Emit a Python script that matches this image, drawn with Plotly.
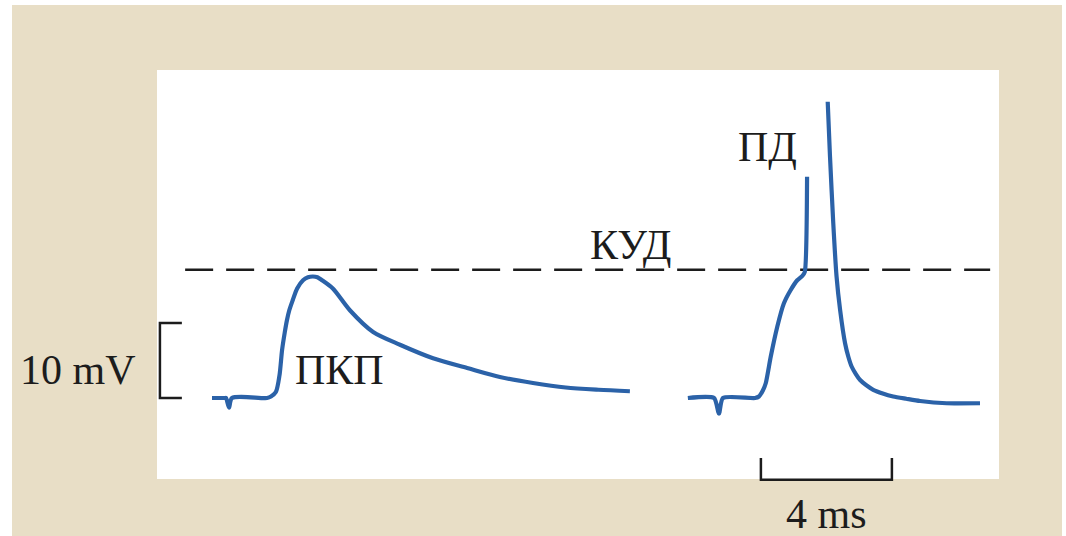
import plotly.graph_objects as go

# Postsynaptic potential (ПКП): time in ms, membrane potential in mV
psp_t = [0.00, 0.40, 0.43, 0.52, 0.61, 1.68, 1.80, 1.95, 2.06, 2.14, 2.22, 2.29,
         2.36, 2.47, 2.60, 2.78, 2.93, 3.08, 3.22, 3.36, 3.69, 4.21, 4.92, 5.74,
         6.75, 7.79, 8.79, 9.80, 10.80, 11.80, 12.76]
psp_v = [-70.0, -70.0, -70.0, -71.3, -70.0, -70.0, -69.8, -69.2, -67.0, -63.6,
         -61.3, -59.6, -58.3, -56.9, -55.4, -54.3, -53.9, -53.8, -53.9, -54.3,
         -55.4, -58.3, -61.2, -62.9, -64.7, -66.0, -67.2, -68.0, -68.6, -68.9,
         -69.1]

# Action potential (ПД): rising phase to threshold, spike, repolarisation
ap_rise_t = [14.53, 15.33, 15.48, 15.60, 16.58, 16.70, 16.82, 16.91, 17.06,
             17.26, 17.46, 17.67, 17.87, 18.03, 18.10, 18.17]
ap_rise_v = [-70.0, -70.0, -72.1, -70.0, -70.0, -69.8, -69.0, -68.0, -64.5,
             -60.5, -57.4, -55.6, -54.3, -53.7, -53.2, -40.5]
ap_fall_t = [18.80, 18.87, 18.97, 19.07, 19.18, 19.33, 19.43, 19.53, 19.66,
             19.79, 19.98, 20.19, 20.48, 20.80, 21.20, 21.62, 22.43, 23.45]
ap_fall_v = [-30.5, -37.8, -46.7, -53.8, -58.3, -62.7, -64.5, -65.8, -66.8,
             -67.6, -68.3, -68.9, -69.4, -69.8, -70.1, -70.4, -70.7, -70.7]

# Threshold (КУД) and scale bars
threshold_mv = -52.9
threshold_span = [-0.82, 23.76]
scale_mv = 10
scale_ms = 4
mv_bar_t = -1.59
mv_bar_base = -70.0
mv_bar_tick = 0.67
ms_bar_start = 16.76
ms_bar_level = -80.9
ms_bar_tick = 2.9

labels = {
    "КУД": (12.79, -49.6),
    "ПД": (16.95, -36.5),
    "ПКП": (3.88, -66.3),
}

trace_color = "#2b62a8"
ink = "#1c1c1c"
beige = "#e8dec6"
serif = "Liberation Serif"
font_size = 42

fig = go.Figure()

fig.add_trace(go.Scatter(
    x=threshold_span, y=[threshold_mv, threshold_mv], mode="lines",
    line=dict(color=ink, width=2.6, dash="28px,13px"), hoverinfo="skip"))

fig.add_trace(go.Scatter(
    x=psp_t, y=psp_v, mode="lines",
    line=dict(color=trace_color, width=4.2, shape="spline", smoothing=0.8)))

fig.add_trace(go.Scatter(
    x=ap_rise_t + [None] + ap_fall_t, y=ap_rise_v + [None] + ap_fall_v,
    mode="lines", connectgaps=False,
    line=dict(color=trace_color, width=4.2, shape="spline", smoothing=0.6)))

# 10 mV bracket
fig.add_trace(go.Scatter(
    x=[mv_bar_t + mv_bar_tick, mv_bar_t, mv_bar_t, mv_bar_t + mv_bar_tick],
    y=[mv_bar_base + scale_mv, mv_bar_base + scale_mv, mv_bar_base, mv_bar_base],
    mode="lines", line=dict(color=ink, width=2.5)))

# 4 ms bracket
fig.add_trace(go.Scatter(
    x=[ms_bar_start, ms_bar_start, ms_bar_start + scale_ms, ms_bar_start + scale_ms],
    y=[ms_bar_level + ms_bar_tick, ms_bar_level, ms_bar_level, ms_bar_level + ms_bar_tick],
    mode="lines", line=dict(color=ink, width=2.5)))

annotations = []
for text, (tx, ty) in labels.items():
    annotations.append(dict(x=tx, y=ty, text=text, showarrow=False,
                            font=dict(family=serif, size=font_size, color=ink)))
annotations.append(dict(x=mv_bar_t - 2.5, y=mv_bar_base + scale_mv * 0.37,
                        text=f"{scale_mv} mV", showarrow=False,
                        font=dict(family=serif, size=font_size, color=ink)))
annotations.append(dict(x=ms_bar_start + scale_ms / 2, y=ms_bar_level - 4.6,
                        text=f"{scale_ms} ms", showarrow=False,
                        font=dict(family=serif, size=font_size, color=ink)))

W, H = 1066, 536
shapes = [
    dict(type="rect", xref="paper", yref="paper", layer="below",
         x0=12 / W, x1=1062 / W, y0=0, y1=1 - 5 / H,
         fillcolor=beige, line=dict(width=0)),
    dict(type="rect", xref="paper", yref="paper", layer="below",
         x0=157 / W, x1=999 / W, y0=1 - 479 / H, y1=1 - 70 / H,
         fillcolor="white", line=dict(width=0)),
]

fig.update_layout(
    width=W, height=H,
    margin=dict(l=0, r=0, t=0, b=0),
    paper_bgcolor="white", plot_bgcolor="rgba(0,0,0,0)",
    showlegend=False,
    xaxis=dict(range=[-6.473, 26.076], visible=False, domain=[0, 1]),
    yaxis=dict(range=[-88.4, -16.93], visible=False, domain=[0, 1]),
    shapes=shapes, annotations=annotations,
)

fig.write_html("out.html")
